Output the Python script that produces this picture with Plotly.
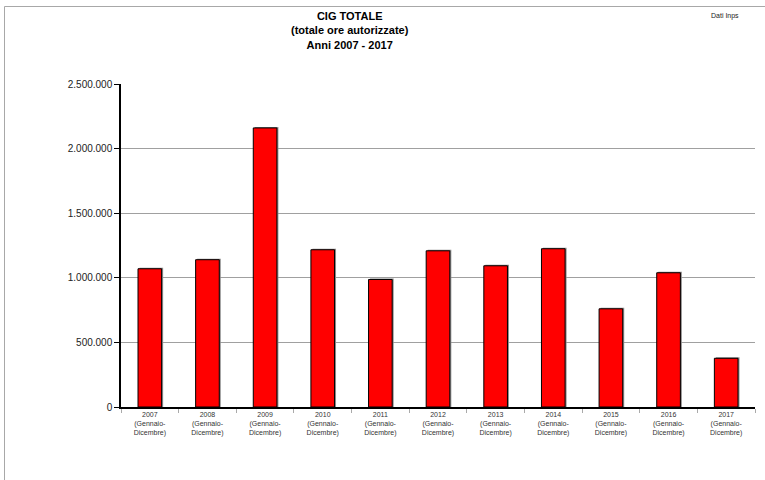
import plotly.graph_objects as go

years = ["2007", "2008", "2009", "2010", "2011", "2012", "2013", "2014", "2015", "2016", "2017"]
period = "(Gennaio-<br>Dicembre)"
hours = [1070000, 1140000, 2160000, 1217000, 987000, 1209000, 1093000, 1225000, 760000, 1039000, 377000]
y_ticks = [0, 500000, 1000000, 1500000, 2000000, 2500000]

labels = [f"{y}<br>{period}" for y in years]

W, H = 765, 480
L, R, T, B = 121, 10, 84, 73
pw, ph = W - L - R, H - T - B
ymax = 2500000
bar_w = 0.41

def px_x(p):
    return (p - L) / pw

def px_y(p):
    return (H - B - p) / ph

fig = go.Figure()
# subtle shadow behind bars
fig.add_trace(go.Bar(
    x=labels, y=[v + ymax / ph * 1.0 for v in hours],
    width=bar_w, offset=-bar_w / 2 + 1.5 / (pw / len(years)),
    marker=dict(color="#8c8c8c", line=dict(width=0)),
    hoverinfo="skip", showlegend=False,
))
fig.add_trace(go.Bar(
    x=labels, y=hours,
    width=bar_w, offset=-bar_w / 2,
    marker=dict(color="#ff0000", line=dict(color="#000000", width=1)),
    showlegend=False,
))

fig.update_layout(
    width=W, height=H,
    margin=dict(l=L, r=R, t=T, b=B, pad=0),
    barmode="overlay",
    paper_bgcolor="white", plot_bgcolor="white",
    separators=",.",
    font=dict(family="Liberation Sans, Arial, sans-serif", color="#222222"),
    xaxis=dict(
        type="category",
        showline=True, linecolor="#000000", linewidth=1.5,
        ticks="outside", tickson="boundaries", ticklen=4, tickcolor="#aaaaaa",
        tickfont=dict(size=7, color="#333333"),
        showgrid=False,
    ),
    yaxis=dict(
        range=[0, ymax], tickvals=y_ticks, tickformat=",d",
        showline=True, linecolor="#000000", linewidth=1.5,
        ticks="outside", ticklen=5, tickcolor="#000000",
        tickfont=dict(size=10, color="#222222"),
        showgrid=True, gridcolor="#a0a0a0", gridwidth=1,
        zeroline=False,
    ),
    shapes=[dict(
        type="rect", xref="paper", yref="paper",
        x0=px_x(4.5), x1=px_x(900), y0=px_y(700), y1=px_y(6.5),
        line=dict(color="#a8a8a8", width=1), fillcolor="rgba(0,0,0,0)", layer="above",
    )],
    annotations=[
        dict(text="<b>CIG TOTALE<br>(totale ore autorizzate)<br>Anni 2007 - 2017</b>",
             xref="paper", yref="paper", x=px_x(350), y=px_y(30),
             xanchor="center", yanchor="middle", showarrow=False,
             font=dict(size=11, color="#000000")),
        dict(text="Dati Inps", xref="paper", yref="paper", x=px_x(725), y=px_y(16),
             xanchor="center", yanchor="middle", showarrow=False,
             font=dict(size=7, color="#222222")),
    ],
)

fig.write_html("out.html", config={"displayModeBar": False})

# remove the default page margin so the figure sits at the window origin
with open("out.html", "r", encoding="utf-8") as f:
    html = f.read()
html = html.replace("<head>", "<head><style>html,body{margin:0;padding:0;overflow:hidden;}</style>", 1)
with open("out.html", "w", encoding="utf-8") as f:
    f.write(html)
